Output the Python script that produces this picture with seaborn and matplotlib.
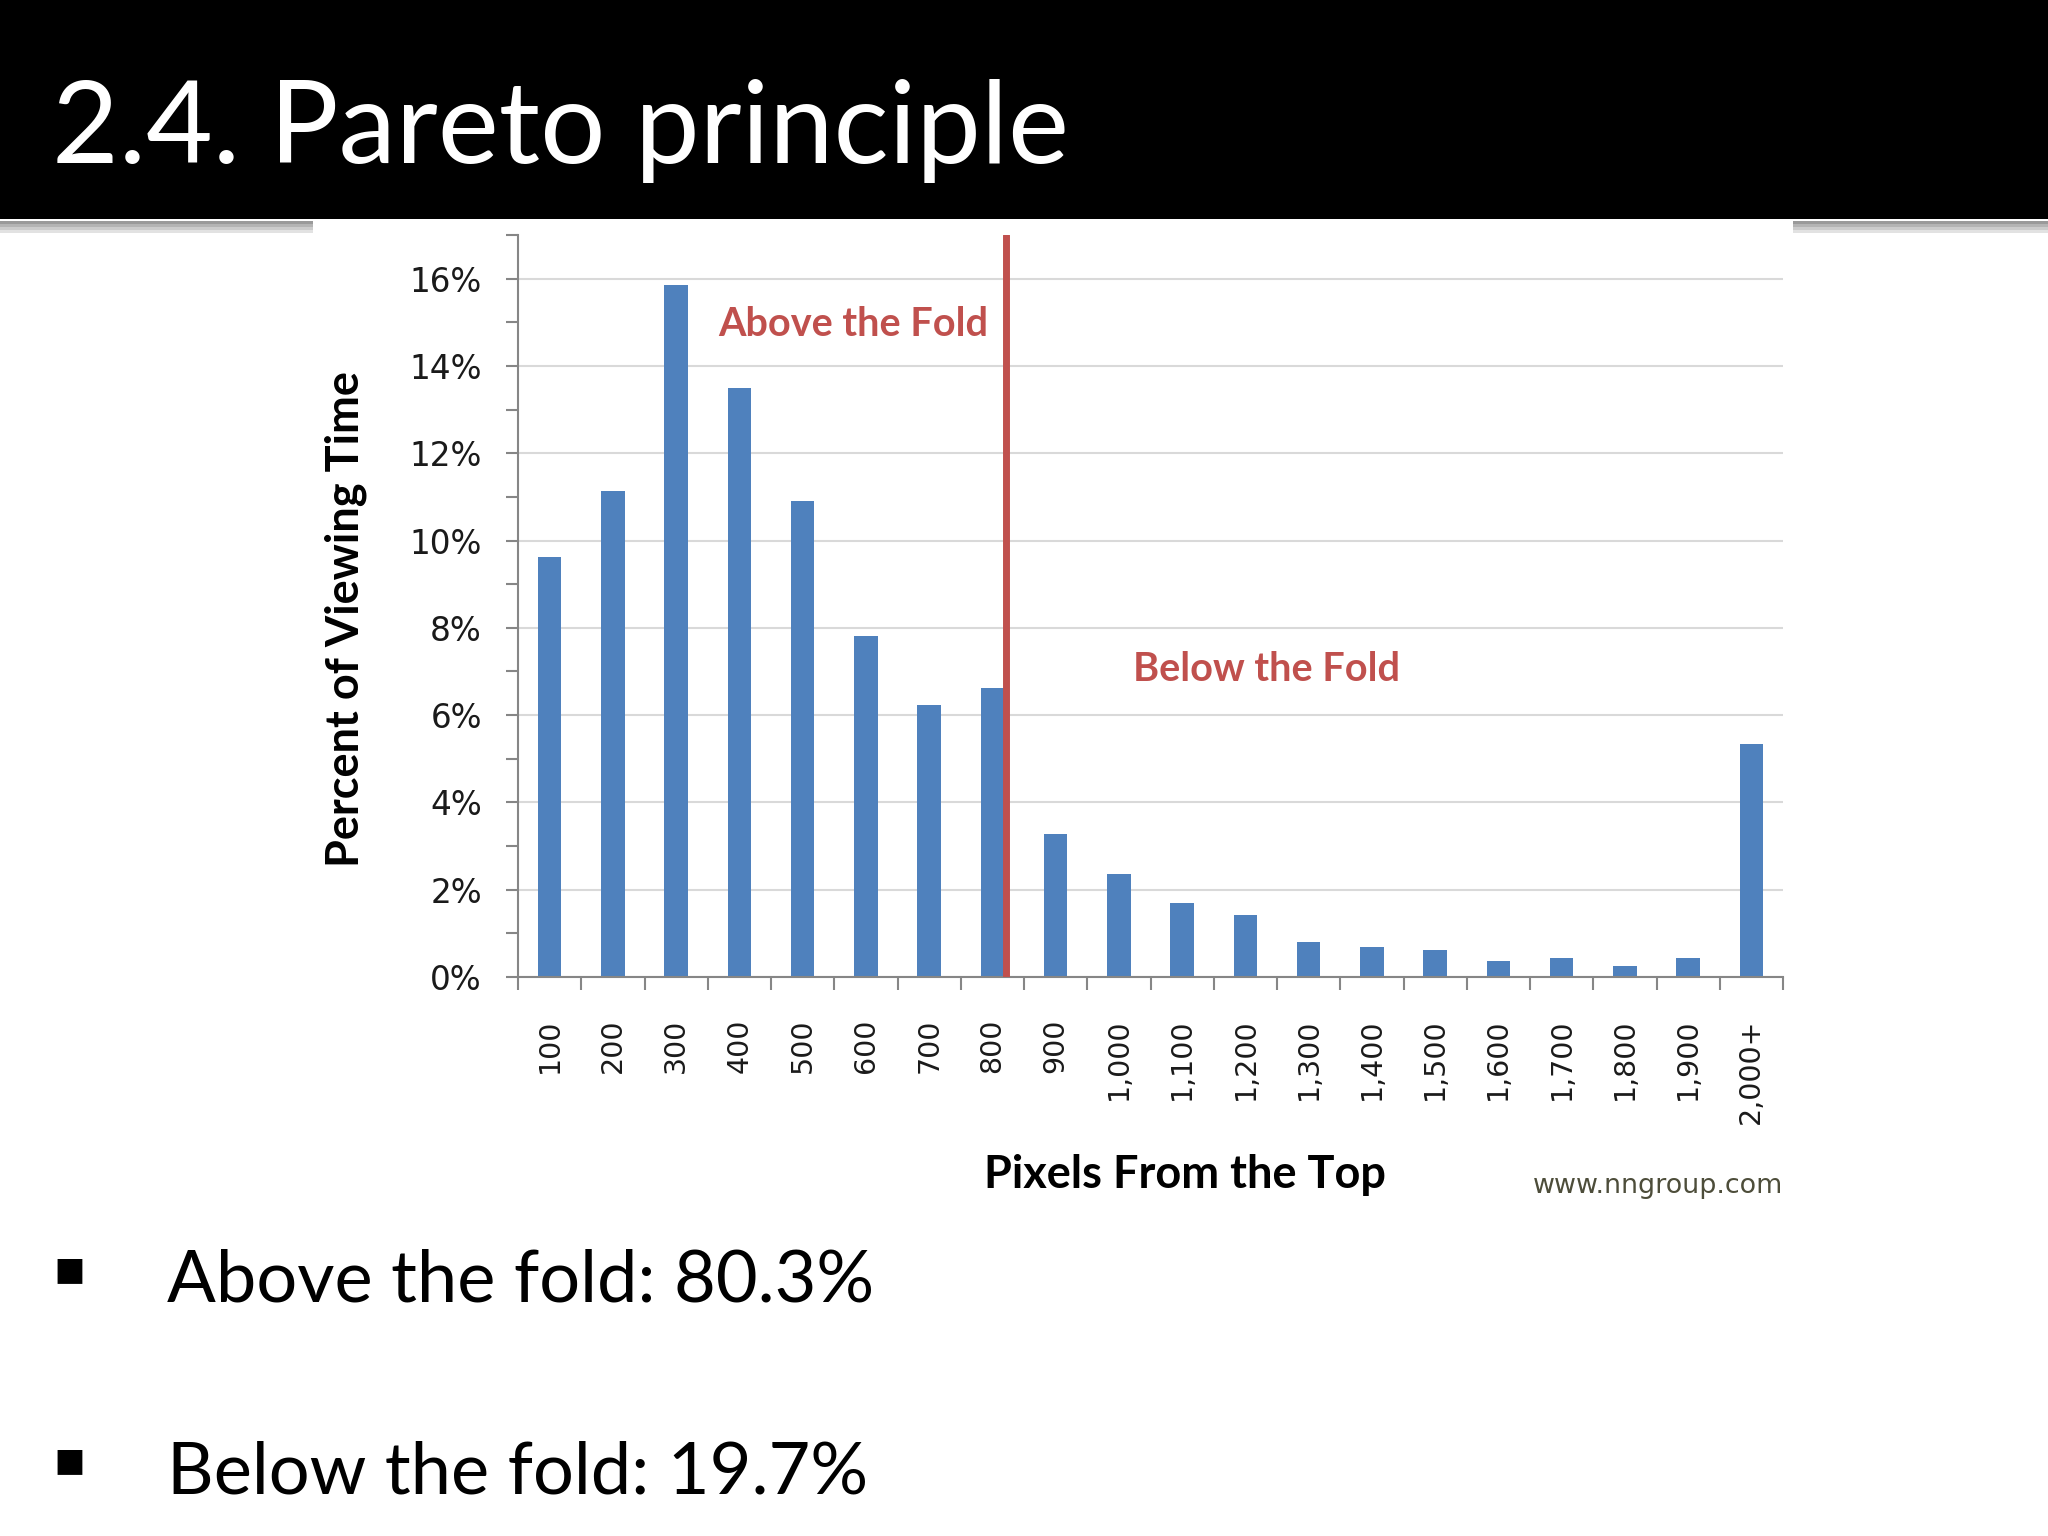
import matplotlib.pyplot as plt
import matplotlib.ticker as mticker
from matplotlib.patches import Rectangle
import numpy as np
import pandas as pd
import seaborn as sns

sns.set_theme(style="white")
plt.rcParams['font.family'] = ['DejaVu Sans']

# Data (percent of viewing time per 100px band)
pixel_bins = ['100', '200', '300', '400', '500', '600', '700', '800', '900', '1,000',
              '1,100', '1,200', '1,300', '1,400', '1,500', '1,600', '1,700', '1,800',
              '1,900', '2,000+']
viewing_pct = [9.62, 11.13, 15.85, 13.49, 10.90, 7.81, 6.24, 6.61, 3.28, 2.36,
               1.70, 1.41, 0.81, 0.69, 0.63, 0.37, 0.43, 0.25, 0.43, 5.33]
fold_position = 7.22  # category position of the fold line (just after the 800 bar)
slide_title = '2.4. Pareto principle'
bullets = ['Above the fold: 80.3%', 'Below the fold: 19.7%']

W, H = 2048, 1536
fig = plt.figure(figsize=(20.48, 15.36), dpi=100)
fig.patch.set_facecolor('white')

# black title band and its grey shadow (hidden behind the pasted chart picture)
fig.add_artist(Rectangle((0, 1 - 219 / H), 1, 219 / H, transform=fig.transFigure,
                         facecolor='black', edgecolor='none', zorder=0))
for x0, x1 in [(0, 313), (1793, W)]:
    for k, c in enumerate(['#9a9a9a', '#b4b4b4', '#cccccc', '#e2e2e2']):
        fig.add_artist(Rectangle((x0 / W, 1 - (221 + 3 * (k + 1)) / H), (x1 - x0) / W, 3 / H,
                                 transform=fig.transFigure, facecolor=c,
                                 edgecolor='none', zorder=0))
fig.text(52 / W, 1 - 163 / H, slide_title, color='white', fontsize=83,
         family='Lato', va='baseline', ha='left')

# chart
ax = fig.add_axes([518 / W, 1 - 977 / H, 1265 / W, 742 / H])
df = pd.DataFrame({'bin': pixel_bins, 'pct': viewing_pct})
sns.barplot(data=df, x='bin', y='pct', color='#4F81BD', saturation=1, width=0.37,
            edgecolor='none', ax=ax, zorder=2)
ax.set_xlim(-0.5, len(pixel_bins) - 0.5)
ax.set_ylim(0, 17)
ax.axvline(fold_position, color='#C0504D', lw=5, zorder=3)

ax.set_axisbelow(True)
ax.yaxis.grid(True, which='major', color='#D9D9D9', lw=1.5)
for s in ['top', 'right']:
    ax.spines[s].set_visible(False)
for s in ['left', 'bottom']:
    ax.spines[s].set_color('#868686')
    ax.spines[s].set_linewidth(1.5)

ax.yaxis.set_major_locator(mticker.MultipleLocator(2))
ax.yaxis.set_minor_locator(mticker.MultipleLocator(1))
ax.yaxis.set_major_formatter(mticker.FuncFormatter(lambda v, p: f'{v:.0f}%'))
ax.tick_params(axis='y', which='both', left=True, direction='out', length=9,
               width=1.5, color='#868686')
ax.tick_params(axis='y', which='major', labelsize=23.5, pad=17, labelcolor='#1a1a1a')

ax.xaxis.set_minor_locator(mticker.FixedLocator(np.arange(-0.5, len(pixel_bins), 1)))
ax.tick_params(axis='x', which='major', bottom=True, length=0, labelsize=20.5,
               pad=30, labelrotation=90, labelcolor='#1a1a1a')
ax.tick_params(axis='x', which='minor', bottom=True, direction='out', length=9,
               width=1.5, color='#868686')

ax.set_ylabel('Percent of Viewing Time', family='Lato', fontweight='bold',
              fontsize=32.5, color='black', va='center')
ax.yaxis.set_label_coords(-0.136, 0.482)
ax.set_xlabel('Pixels From the Top', family='Lato', fontweight='bold',
              fontsize=32.5, color='black', va='center')
ax.xaxis.set_label_coords(0.527, -0.267)

ax.text(4.8, 14.95, 'Above the Fold', color='#C0504D', family='Lato',
        fontweight='bold', fontsize=28.5, ha='center', va='center')
ax.text(11.33, 7.04, 'Below the Fold', color='#C0504D', family='Lato',
        fontweight='bold', fontsize=28.5, ha='center', va='center')
ax.text(1.0, -0.282, 'www.nngroup.com', transform=ax.transAxes, color='#4d4d3a',
        fontsize=19.4, ha='right', va='center')

# bullet points
for yb, txt in zip([1302, 1493], bullets):
    fig.text(69 / W, 1 - (yb - 33) / H, '\u25aa', fontsize=36, ha='center',
             va='center', color='black')
    fig.text(167 / W, 1 - yb / H, txt, fontsize=52, family='Lato',
             va='baseline', ha='left', color='black')

fig.savefig('out.png', dpi=100)
